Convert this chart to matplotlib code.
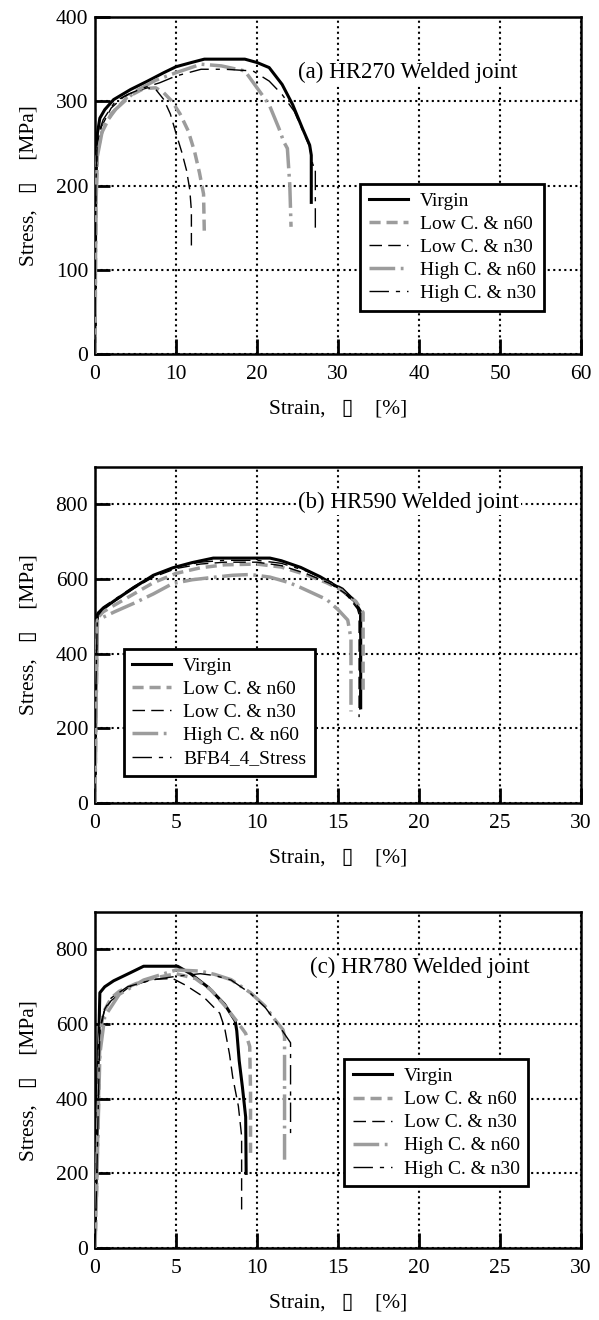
import matplotlib
matplotlib.use("Agg")
import matplotlib.pyplot as plt

plt.rcParams['font.family'] = ['Liberation Serif', 'DejaVu Sans']

GRAY = '#9c9c9c'

# ---- (a) HR270 ----
a_virgin_x = [0, 0.1, 0.3, 0.6, 1.2, 2.3, 4.4, 6.5, 8.5, 10, 11.9, 13.5, 18.5, 20, 21.5, 23.1, 24.4, 25.6, 26.5, 26.7, 26.7]
a_virgin_y = [0, 200, 262, 280, 290, 302, 314, 324, 334, 341, 346, 350, 350, 346, 340, 320, 296, 268, 248, 236, 180]
a_low60_x = [0, 0.1, 0.3, 0.8, 2, 4, 6, 7.5, 8.5, 9.5, 10.5, 11.5, 12.3, 12.9, 13.4, 13.5]
a_low60_y = [0, 180, 240, 262, 285, 305, 315, 316, 310, 300, 285, 265, 240, 215, 190, 142]
a_low30_x = [0, 0.1, 0.3, 0.8, 2, 3.5, 5, 6.5, 7.5, 8.5, 9.3, 10, 10.7, 11.3, 11.7, 11.9, 11.9]
a_low30_y = [0, 190, 250, 270, 292, 305, 312, 316, 314, 302, 285, 262, 240, 218, 195, 170, 125]
a_high60_x = [0, 0.1, 0.3, 1, 2.5, 5, 7.5, 10, 13.1, 15.6, 18.5, 20, 21.5, 22.7, 23.3, 23.75, 24.05, 24.2]
a_high60_y = [0, 170, 235, 270, 290, 312, 325, 334, 344, 342, 336, 316, 296, 268, 252, 244, 200, 151]
a_high30_x = [0, 0.1, 0.3, 1, 2.5, 4, 6, 8, 10, 13.1, 16, 19.5, 21.5, 23.1, 24.6, 25.6, 26.5, 26.9, 27.2, 27.2]
a_high30_y = [0, 200, 258, 278, 300, 308, 316, 322, 330, 338, 338, 336, 324, 308, 288, 266, 246, 224, 224, 149]

# ---- (b) HR590 ----
b_virgin_x = [0, 0.05, 0.15, 0.5, 1.2, 2.4, 3.6, 4.8, 6, 7.3, 10.8, 11.5, 12.7, 13.9, 15, 16, 16.4, 16.4]
b_virgin_y = [0, 300, 505, 520, 542, 577, 610, 630, 644, 656, 656, 649, 631, 606, 578, 542, 512, 255]
b_low60_x = [0, 0.05, 0.15, 0.5, 1.2, 2.4, 3.6, 5, 6.5, 8, 10, 11.5, 13, 14.3, 15.3, 16.1, 16.55, 16.55]
b_low60_y = [0, 250, 495, 512, 530, 560, 590, 615, 630, 638, 640, 632, 612, 590, 568, 540, 510, 290]
b_low30_x = [0, 0.05, 0.15, 0.5, 1.2, 2.4, 3.6, 5, 6.5, 8, 10, 11.5, 13, 14.5, 15.5, 16.2, 16.3, 16.3]
b_low30_y = [0, 300, 500, 520, 540, 575, 605, 628, 640, 645, 645, 636, 615, 588, 560, 520, 505, 230]
b_high60_x = [0, 0.05, 0.15, 1.2, 2.4, 3.6, 4.8, 6, 7.2, 8.5, 9.6, 10.8, 12, 12.7, 14.3, 15, 15.6, 15.8, 15.8]
b_high60_y = [0, 180, 490, 512, 535, 560, 588, 598, 604, 610, 612, 605, 590, 577, 545, 518, 490, 440, 245]
b_bfb_x = [0, 0.05, 0.15, 0.5, 1.2, 2.4, 3.6, 5, 6.5, 8, 10, 11.5, 13, 14.3, 15.3, 16, 16.35, 16.35]
b_bfb_y = [0, 300, 510, 525, 545, 580, 610, 632, 645, 650, 650, 642, 622, 598, 575, 545, 515, 245]

# ---- (c) HR780 ----
c_virgin_x = [0, 0.05, 0.1, 0.2, 0.3, 0.6, 1.15, 2.2, 3, 5.1, 5.9, 7, 8, 8.65, 8.75, 8.9, 9.1, 9.3, 9.33]
c_virgin_y = [0, 170, 350, 500, 684, 700, 716, 738, 755, 755, 735, 698, 653, 609, 582, 502, 431, 351, 200]
c_low60_x = [0, 0.1, 0.3, 0.5, 1, 1.5, 2.5, 3.5, 5, 6.2, 7.2, 8, 8.8, 9.3, 9.55, 9.6, 9.6]
c_low60_y = [0, 160, 560, 630, 670, 688, 708, 722, 735, 722, 690, 650, 605, 575, 540, 420, 255]
c_low30_x = [0, 0.1, 0.3, 0.6, 1, 2.1, 3.5, 4.8, 5.6, 6.7, 7.7, 8.0, 8.3, 8.5, 8.85, 9.05, 9.05]
c_low30_y = [0, 170, 590, 640, 663, 699, 720, 722, 704, 673, 629, 590, 520, 458, 380, 300, 98]
c_high60_x = [0, 0.1, 0.3, 0.6, 1.5, 3, 5, 6.5, 7.4, 8.4, 9.6, 10.5, 11.1, 11.6, 11.7, 11.7]
c_high60_y = [0, 160, 520, 620, 680, 718, 745, 742, 733, 719, 684, 648, 612, 585, 567, 228]
c_high30_x = [0, 0.1, 0.3, 0.6, 1, 2, 3.5, 5, 6.5, 7.4, 8.4, 9.6, 10.5, 11.1, 11.6, 12.07, 12.07]
c_high30_y = [0, 170, 580, 640, 670, 700, 718, 728, 735, 730, 718, 682, 645, 610, 580, 550, 308]

labels_std = ['Virgin', 'Low C. & n60', 'Low C. & n30', 'High C. & n60', 'High C. & n30']
labels_b = ['Virgin', 'Low C. & n60', 'Low C. & n30', 'High C. & n60', 'BFB4_4_Stress']

styles = [
    dict(color='black', lw=2.2, ls='-'),
    dict(color=GRAY, lw=2.5, ls=(0, (3.2, 1.7))),
    dict(color='black', lw=1.0, ls=(0, (9, 4.5))),
    dict(color=GRAY, lw=2.5, ls=(0, (7.4, 1.6, 0.8, 1.6))),
    dict(color='black', lw=1.0, ls=(0, (14, 5, 3, 5))),
]

panels = [
    dict(rect=[0.1586, 0.7318, 0.8114, 0.2553], xmax=60, xstep=10, ymax=400, yticks=[0, 100, 200, 300, 400],
         curves=[(a_virgin_x, a_virgin_y), (a_low60_x, a_low60_y), (a_low30_x, a_low30_y),
                 (a_high60_x, a_high60_y), (a_high30_x, a_high30_y)],
         labels=labels_std, title='(a) HR270 Welded joint', tpos=(25.0, 334),
         leg=(0.546, 0.506)),
    dict(rect=[0.1586, 0.3917, 0.8114, 0.2545], xmax=30, xstep=5, ymax=900, yticks=[0, 200, 400, 600, 800],
         curves=[(b_virgin_x, b_virgin_y), (b_low60_x, b_low60_y), (b_low30_x, b_low30_y),
                 (b_high60_x, b_high60_y), (b_bfb_x, b_bfb_y)],
         labels=labels_b, title='(b) HR590 Welded joint', tpos=(12.55, 804),
         leg=(0.059, 0.459)),
    dict(rect=[0.1586, 0.0545, 0.8114, 0.2545], xmax=30, xstep=5, ymax=900, yticks=[0, 200, 400, 600, 800],
         curves=[(c_virgin_x, c_virgin_y), (c_low60_x, c_low60_y), (c_low30_x, c_low30_y),
                 (c_high60_x, c_high60_y), (c_high30_x, c_high30_y)],
         labels=labels_std, title='(c) HR780 Welded joint', tpos=(13.26, 751),
         leg=(0.513, 0.563)),
]

fig = plt.figure(figsize=(5.99, 13.2), dpi=100)

for p in panels:
    ax = fig.add_axes(p['rect'])
    for (xs, ys), lab, st in zip(p['curves'], p['labels'], styles):
        ax.plot(xs, ys, label=lab, zorder=3, **st)
    ax.set_xlim(0, p['xmax'])
    ax.set_ylim(0, p['ymax'])
    ax.set_xticks(range(0, p['xmax'] + 1, p['xstep']))
    ax.set_yticks(p['yticks'])
    ax.grid(True, color='black', ls=':', lw=1.5, zorder=1)
    ax.set_axisbelow(True)
    ax.tick_params(direction='in', length=11, width=2, labelsize=15.5, top=False, right=False)
    ax.tick_params(axis='x', pad=8)
    ax.tick_params(axis='y', pad=5)
    for s in ax.spines.values():
        s.set_linewidth(1.8)
    ax.set_xlabel('Strain,   \u25AF    [%]', fontsize=15.5, labelpad=11)
    ax.set_ylabel('Stress,   \u25AF    [MPa]', fontsize=15.5, labelpad=12)
    ax.text(p['tpos'][0], p['tpos'][1], p['title'], fontsize=16.5, va='center', ha='left', zorder=4,
            bbox=dict(facecolor='white', edgecolor='none', pad=1))
    leg = ax.legend(loc='upper left', bbox_to_anchor=p['leg'], borderaxespad=0, fontsize=14,
                    frameon=True, fancybox=False, framealpha=1, edgecolor='black',
                    handlelength=2.0, handletextpad=0.6, labelspacing=0.28, borderpad=0.45)
    leg.get_frame().set_linewidth(2)
    leg.set_zorder(5)

fig.savefig('out.png', dpi=100, facecolor='white')
